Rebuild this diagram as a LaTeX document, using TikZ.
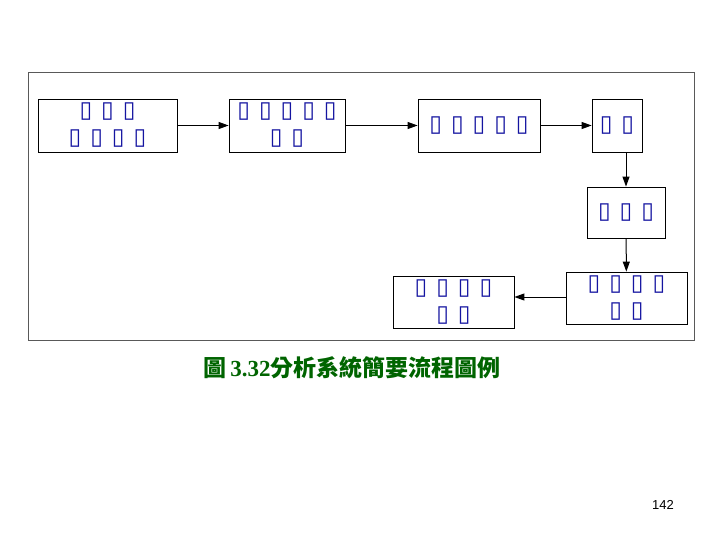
\documentclass[tikz,border=0pt]{standalone}
\usepackage{fontspec}
\newfontfamily\tofu{DejaVu Sans}
\newfontfamily\cjk{Noto Sans CJK TC}
\setmainfont{Liberation Serif}
\usetikzlibrary{positioning,arrows.meta}
\definecolor{tofublue}{RGB}{20,20,160}
\definecolor{capgreen}{RGB}{0,100,0}
\newcommand{\tg}{\hspace{9pt}}

\begin{document}
\begin{tikzpicture}[x=1pt,y=-1pt,
    stage/.style={draw, thick, inner sep=0pt, align=center,
      font=\tofu\fontsize{23}{27}\selectfont, text=tofublue},
    flow/.style={-{Triangle[length=10pt,width=7pt]}, line width=1pt}]
  \useasboundingbox (0,0) rectangle (720,540);
  \draw[gray!70!black] (28,72) rectangle (694,340);

  \node[stage, minimum width=139pt, minimum height=53pt] (s1) at (107.5,125.5) {▯\tg▯\tg▯\\▯\tg▯\tg▯\tg▯};
  \node[stage, minimum width=116pt, minimum height=53pt] (s2) at (287,125.5) {▯\tg▯\tg▯\tg▯\tg▯\\▯\tg▯};
  \node[stage, minimum width=122pt, minimum height=53pt] (s3) at (479,125.5) {▯\tg▯\tg▯\tg▯\tg▯};
  \node[stage, minimum width=50pt, minimum height=53pt] (s4) at (617,125.5) {▯\tg▯};
  \node[stage, minimum width=78pt, minimum height=51pt] (s5) at (626,212.5) {▯\tg▯\tg▯};
  \node[stage, minimum width=121pt, minimum height=52pt] (s6) at (626.5,298) {▯\tg▯\tg▯\tg▯\\▯\tg▯};
  \node[stage, minimum width=121pt, minimum height=52pt] (s7) at (453.5,302) {▯\tg▯\tg▯\tg▯\\▯\tg▯};

  \draw[flow] (s1) -- (s2);
  \draw[flow] (s2) -- (s3);
  \draw[flow] (s3) -- (s4);
  \draw[flow] (s4.south -| s5) -- (s5);
  \draw[flow] (s5) -- (s6);
  \draw[flow] (s6.west |- 0,297) -- (s7.east |- 0,297);

  % caption and page number
  \node[text=capgreen, font=\bfseries\fontsize{23}{26}\selectfont] (cap) at (352,368)
    {{\cjk 圖}\,3.32{\cjk 分析系統簡要流程圖例}};
  \node[font=\fontspec{Liberation Sans}\fontsize{13}{15}\selectfont] (page) at (663,505) {142};
\end{tikzpicture}
\end{document}
